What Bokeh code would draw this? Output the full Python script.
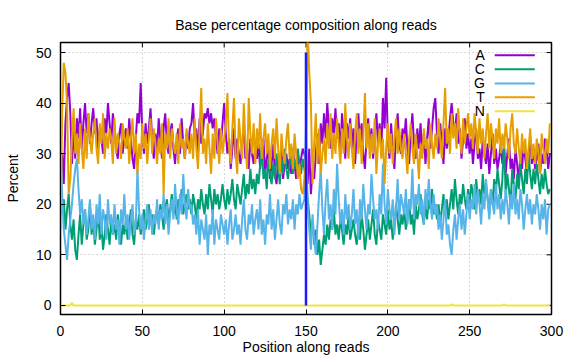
from bokeh.plotting import figure
from bokeh.models import Range1d, FixedTicker
from bokeh.core.properties import value
from bokeh.embed import file_html
from bokeh.resources import INLINE

# ---------------- data ----------------
positions = list(range(300))

A = [26, 30, 24, 36, 41, 44, 38, 28, 35, 29, 37, 33, 39, 31, 36, 40, 34, 38, 32, 36,
     39, 34, 37, 31, 35, 33, 30, 37, 34, 40, 36, 32, 38, 35, 31, 29, 34, 36, 30, 33,
     35, 31, 37, 33, 29, 27, 33, 38, 36, 44, 34, 30, 36, 32, 35, 39, 33, 29, 34, 31,
     37, 33, 29, 35, 38, 32, 30, 34, 36, 31, 28, 33, 35, 30, 37, 32, 29, 34, 31, 35,
     36, 40, 33, 35, 30, 37, 32, 34, 38, 37, 39, 36, 38, 35, 37, 33, 30, 35, 32, 36,
     40, 34, 30, 33, 27, 31, 35, 29, 33, 30, 28, 32, 35, 29, 31, 27, 33, 30, 28, 31,
     29, 32, 27, 30, 33, 26, 29, 31, 25, 28, 32, 26, 24, 29, 27, 31, 25, 28, 30, 27,
     29, 26, 31, 28, 25, 30, 27, 29, 31, 30,
     28, 24, 31, 22, 27, 25, 30, 34, 28, 36, 32, 38, 33, 40, 35, 31, 37, 34, 39, 33,
     36, 30, 38, 34, 29, 36, 33, 37, 31, 35, 28, 34, 38, 32, 36, 30, 27, 33, 37, 31,
     35, 29, 34, 38, 32, 36, 30, 41, 35, 45, 33, 29, 36, 31, 27, 34, 38, 32, 30, 35,
     33, 37, 31, 28, 34, 38, 32, 29, 35, 31, 36, 30, 34, 28, 33, 37, 31, 35, 39, 41,
     34, 30, 36, 32, 28, 35, 31, 33, 37, 40, 36, 34, 38, 32, 35, 29, 33, 37, 31, 34,
     30, 33, 28, 32, 35, 29, 31, 27, 33, 30, 28, 32, 26, 30, 34, 28, 31, 27, 29, 32,
     28, 31, 26, 30, 33, 27, 29, 25, 31, 28, 24, 30, 27, 32, 29, 26, 30, 33, 28, 31,
     27, 29, 32, 26, 30, 28, 33, 31, 27, 30]

C = [24, 18, 21, 15, 19, 22, 16, 13, 17, 11, 9, 14, 18, 12, 16, 19, 13, 15, 20, 14,
     17, 12, 15, 19, 13, 16, 11, 14, 18, 15, 12, 17, 14, 16, 13, 18, 15, 12, 16, 14,
     17, 13, 16, 19, 14, 12, 17, 15, 18, 14, 16, 19, 15, 17, 20, 16, 18, 14, 17, 19,
     16, 20, 18, 15, 19, 21, 17, 19, 22, 18, 20, 17, 21, 19, 23, 18, 20, 22, 19, 21,
     18, 22, 20, 17, 21, 19, 23, 20, 18, 22, 19, 24, 21, 18, 23, 20, 22, 19, 21, 24,
     21, 19, 23, 20, 22, 25, 21, 19, 24, 22, 20, 23, 26, 21, 24, 22, 27, 23, 25, 22,
     26, 24, 28, 32, 25, 27, 23, 29, 26, 24, 28, 25, 30, 27, 24, 29, 26, 31, 27, 25,
     28, 30, 26, 29, 27, 31, 28, 26, 29, 27,
     25, 21, 18, 14, 17, 12, 15, 10, 13, 8, 11, 14, 12, 16, 13, 17, 15, 19, 14, 16,
     13, 17, 15, 12, 16, 14, 18, 13, 15, 17, 14, 12, 16, 13, 18, 15, 11, 14, 17, 13,
     16, 19, 14, 12, 17, 15, 13, 18, 16, 14, 19, 15, 17, 13, 16, 20, 17, 14, 18, 16,
     19, 15, 17, 21, 16, 18, 14, 20, 17, 19, 22, 18, 16, 20, 17, 21, 19, 23, 18, 20,
     17, 20, 16, 19, 22, 18, 21, 17, 20, 23, 19, 25, 21, 18, 22, 20, 24, 21, 19, 23,
     20, 24, 22, 19, 25, 21, 23, 20, 26, 22, 24, 21, 18, 23, 20, 25, 22, 27, 24, 21,
     25, 33, 22, 26, 23, 20, 27, 24, 21, 26, 23, 28, 25, 22, 27, 24, 30, 26, 23, 27,
     24, 28, 25, 22, 26, 23, 27, 24, 22, 23]

G = [34, 22, 15, 12, 9, 14, 17, 20, 24, 27, 29, 23, 18, 21, 16, 19, 14, 17, 21, 15,
     18, 13, 20, 16, 22, 14, 19, 17, 13, 21, 16, 18, 14, 20, 15, 17, 12, 19, 16, 22,
     15, 18, 13, 17, 20, 14, 16, 27, 19, 15, 18, 13, 17, 20, 15, 19, 14, 18, 16, 21,
     15, 19, 17, 22, 16, 20, 14, 18, 21, 17, 24, 19, 16, 22, 18, 26, 20, 17, 23, 19,
     20, 16, 18, 14, 19, 12, 17, 15, 13, 18, 10, 16, 14, 19, 12, 17, 15, 13, 18, 16,
     14, 17, 12, 16, 19, 13, 15, 18, 14, 16, 12, 17, 21, 15, 13, 18, 16, 20, 14, 17,
     19, 15, 21, 14, 17, 12, 18, 16, 22, 15, 19, 13, 17, 21, 16, 14, 20, 18, 22, 16,
     19, 17, 21, 15, 20, 18, 22, 19, 20, 21,
     35, 20, 15, 11, 18, 13, 10, 16, 22, 27, 19, 14, 21, 25, 17, 20, 15, 23, 18, 28,
     21, 16, 19, 14, 22, 17, 20, 15, 18, 23, 16, 19, 13, 21, 17, 24, 19, 15, 20, 18,
     26, 21, 17, 19, 15, 22, 18, 28, 20, 16, 23, 19, 17, 21, 14, 19, 25, 17, 22, 20,
     18, 23, 16, 21, 19, 27, 17, 22, 20, 24, 18, 21, 16, 23, 19, 25, 20, 17, 22, 18,
     20, 15, 18, 13, 17, 21, 14, 16, 12, 10, 15, 18, 13, 17, 20, 15, 19, 14, 18, 22,
     17, 21, 19, 24, 18, 23, 20, 16, 22, 19, 25, 21, 17, 23, 20, 18, 24, 19, 22, 17,
     21, 18, 23, 20, 16, 22, 19, 24, 18, 21, 17, 23, 20, 15, 19, 22, 18, 21, 16, 20,
     18, 22, 19, 15, 20, 17, 21, 14, 19, 20]

T = [15, 38, 48, 46, 40, 22, 25, 33, 39, 30, 34, 28, 36, 31, 27, 35, 29, 38, 33, 30,
     34, 37, 31, 28, 36, 32, 38, 29, 34, 31, 35, 33, 28, 37, 30, 34, 32, 29, 36, 33,
     31, 35, 28, 33, 37, 30, 34, 26, 32, 29, 36, 31, 34, 28, 33, 37, 30, 35, 32, 28,
     33, 30, 36, 22, 34, 31, 37, 29, 35, 32, 30, 34, 28, 36, 31, 33, 29, 35, 32, 30,
     34, 29, 37, 31, 27, 35, 43, 30, 33, 28, 36, 31, 26, 34, 29, 37, 32, 28, 35, 30,
     33, 36, 42, 31, 28, 35, 41, 30, 26, 37, 33, 29, 40, 32, 27, 41, 34, 30, 36, 28,
     35, 31, 38, 29, 33, 36, 30, 34, 27, 32, 35, 29, 37, 31, 26, 34, 30, 28, 33, 36,
     29, 32, 27, 34, 30, 25, 28, 23, 22, 25,
     30, 55, 46, 40, 24, 32, 38, 28, 35, 26, 30, 33, 28, 36, 31, 38, 29, 34, 30, 37,
     32, 28, 35, 30, 40, 33, 29, 36, 31, 27, 34, 38, 30, 35, 28, 33, 42, 31, 36, 29,
     34, 30, 37, 26, 32, 35, 29, 33, 24, 31, 36, 30, 34, 28, 33, 37, 30, 35, 31, 29,
     34, 30, 26, 33, 36, 31, 28, 34, 30, 25, 32, 29, 35, 31, 33, 27, 36, 32, 29, 34,
     31, 37, 33, 29, 36, 43, 32, 35, 30, 38, 33, 36, 31, 39, 34, 30, 37, 32, 35, 38,
     33, 36, 31, 38, 34, 30, 37, 32, 35, 29, 34, 38, 31, 36, 33, 29, 35, 32, 37, 30,
     34, 31, 36, 33, 29, 35, 38, 32, 30, 35, 31, 28, 34, 30, 33, 27, 31, 35, 29, 32,
     28, 33, 30, 26, 34, 31, 28, 33, 30, 36]

N = [0, 0, 0, 0, 0, 0, 0, 0.5, 0, 0, 0, 0, 0, 0, 0, 0, 0, 0, 0, 0,
     0, 0, 0, 0, 0, 0, 0, 0, 0, 0, 0, 0, 0, 0, 0, 0, 0, 0, 0, 0,
     0, 0, 0, 0, 0, 0, 0, 0, 0, 0, 0, 0, 0, 0, 0, 0, 0, 0, 0, 0,
     0, 0, 0, 0, 0, 0, 0, 0, 0, 0, 0, 0, 0, 0, 0, 0, 0, 0, 0, 0,
     0, 0, 0, 0, 0, 0, 0, 0, 0, 0, 0, 0, 0, 0, 0, 0, 0, 0, 0, 0,
     0, 0, 0, 0, 0, 0, 0, 0, 0, 0, 0, 0, 0, 0, 0, 0, 0, 0, 0, 0,
     0, 0, 0, 0, 0, 0, 0, 0, 0, 0, 0, 0, 0, 0, 0, 0, 0, 0, 0, 0,
     0, 0, 0, 0, 0, 0, 0, 0, 0, 0, 0, 0, 0, 0, 0, 0, 0, 0, 0, 0,
     0, 0, 0, 0, 0, 0, 0, 0, 0, 0, 0, 0, 0, 0, 0, 0, 0, 0, 0, 0,
     0, 0, 0, 0, 0, 0, 0, 0, 0, 0, 0, 0, 0, 0, 0, 0, 0, 0, 0, 0,
     0, 0, 0, 0, 0, 0, 0, 0, 0, 0, 0, 0, 0, 0, 0, 0, 0, 0, 0, 0,
     0, 0, 0, 0, 0, 0, 0, 0, 0, 0, 0, 0, 0, 0, 0, 0, 0, 0, 0, 0.2,
     0, 0, 0, 0, 0, 0, 0, 0, 0, 0, 0, 0, 0, 0, 0, 0, 0, 0, 0, 0,
     0, 0, 0, 0, 0, 0, 0, 0, 0, 0, 0, 0.2, 0, 0, 0, 0, 0, 0, 0, 0,
     0, 0, 0, 0, 0, 0, 0, 0, 0, 0, 0, 0, 0, 0, 0, 0, 0, 0, 0, 0]

series_names = ["A", "C", "G", "T", "N"]
series_colors = ["#9400D3", "#009E73", "#56B4E9", "#E69F00", "#F0E442"]

boundary_x = [150, 150]
boundary_y = [0, 50]

x_ticks = [0, 50, 100, 150, 200, 250, 300]
y_ticks = [0, 10, 20, 30, 40, 50]

for s in (A, C, G, T, N):
    assert len(s) == len(positions), len(s)

# ---------------- figure ----------------
FONT = "Liberation Sans"
FS = "14px"
X0, X1 = 0, 300
Y0, Y1 = -1.8, 52.0

p = figure(width=576, height=360, output_backend="svg", toolbar_location=None,
           x_range=Range1d(X0, X1), y_range=Range1d(Y0, Y1),
           min_border_left=60, min_border_right=25, min_border_top=42,
           min_border_bottom=46,
           title="Base percentage composition along reads")
p.background_fill_color = "white"
p.border_fill_color = "white"
p.outline_line_color = "black"
p.outline_line_width = 1.5

p.title.align = "center"
p.title.text_font = FONT
p.title.text_font_size = FS
p.title.text_font_style = "normal"
p.title.text_color = "black"
p.title.standoff = 20

for ax in (p.xaxis[0], p.yaxis[0]):
    ax.axis_line_color = "black"
    ax.major_tick_in = 5
    ax.major_tick_out = 0
    ax.minor_tick_line_color = None
    ax.major_tick_line_color = "black"
    ax.major_label_text_font = FONT
    ax.major_label_text_font_size = FS
    ax.major_label_text_color = "black"
    ax.axis_label_text_font = FONT
    ax.axis_label_text_font_size = FS
    ax.axis_label_text_font_style = "normal"
    ax.axis_label_text_color = "black"

p.xaxis.ticker = FixedTicker(ticks=x_ticks)
p.yaxis.ticker = FixedTicker(ticks=y_ticks)
p.xaxis.axis_label = "Position along reads"
p.yaxis.axis_label = "Percent"
p.xaxis.major_label_standoff = 11
p.xaxis.axis_label_standoff = 0
p.yaxis.major_label_standoff = 9
p.yaxis.axis_label_standoff = 12

p.xgrid.ticker = FixedTicker(ticks=x_ticks)
p.ygrid.ticker = FixedTicker(ticks=y_ticks)
for g in (p.xgrid[0], p.ygrid[0]):
    g.grid_line_color = "#b4b4b4"
    g.grid_line_dash = "1 3"
    g.grid_line_width = 1

# mirrored inward tick marks on the top and right borders (5 px long)
tick_dy = 5 * (Y1 - Y0) / 272.0
tick_dx = 5 * (X1 - X0) / 491.0
p.segment(x0=x_ticks, y0=[Y1] * len(x_ticks), x1=x_ticks, y1=[Y1 - tick_dy] * len(x_ticks),
          line_color="black", line_width=1)
p.segment(x0=[X1] * len(y_ticks), y0=y_ticks, x1=[X1 - tick_dx] * len(y_ticks), y1=y_ticks,
          line_color="black", line_width=1)

# ---------------- series ----------------
for data, color in zip((A, C, G, T, N), series_colors):
    p.line(positions, data, line_color=color, line_width=2)

p.line(boundary_x, boundary_y, line_color="#1a1aff", line_width=2.5)

# ---------------- key (gnuplot style: label, then sample) ----------------
key_label_x = 259.3
key_line_x0 = 265.3
key_line_x1 = 289.8
key_rows = [49.5, 46.7, 43.9, 41.15, 38.4]

p.text(x=[key_label_x] * 5, y=key_rows, text=series_names,
       text_align="right", text_baseline="middle",
       text_font=value(FONT), text_font_size=FS, text_color="black")
p.segment(x0=[key_line_x0] * 5, y0=key_rows, x1=[key_line_x1] * 5, y1=key_rows,
          line_color=series_colors, line_width=2)

open("out.html", "w").write(file_html(p, INLINE))
